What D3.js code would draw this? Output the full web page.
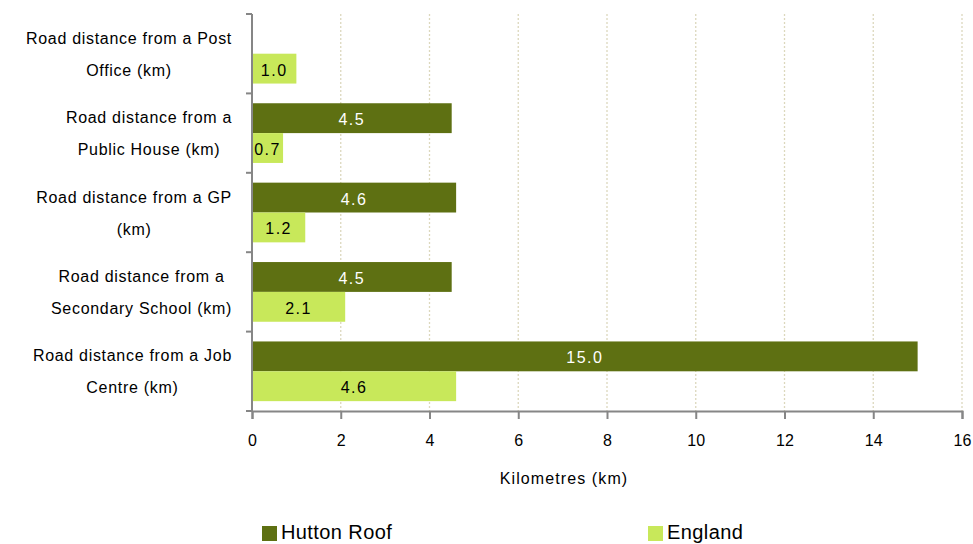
<!DOCTYPE html>
<html><head><meta charset="utf-8">
<script src="https://cdn.jsdelivr.net/npm/d3@7"></script>
<style>body{margin:0;background:#fff}svg{display:block;font-family:"Liberation Sans",Arial,sans-serif}</style>
</head><body><svg id="c" width="973" height="544"></svg>
<script>
const categories = [
  ["Road distance from a Post", "Office (km)"],
  ["Road distance from a", "Public House (km)"],
  ["Road distance from a GP", "(km)"],
  ["Road distance from a", "Secondary School (km)"],
  ["Road distance from a Job", "Centre (km)"]
];
const seriesNames = ["Hutton Roof", "England"];
const huttonRoof = [null, 4.5, 4.6, 4.5, 15.0];
const england = [1.0, 0.7, 1.2, 2.1, 4.6];
const xTicks = [0, 2, 4, 6, 8, 10, 12, 14, 16];
const colors = ["#5e7012", "#c8e85a"];
const labelColors = ["#ffffff", "#000000"];

(function () {
const svg = d3.select("#c");
const pLeft = 252, pRight = 962, pTop = 14, pBottom = 411;
const x = d3.scaleLinear().domain([0, 16]).range([pLeft, pRight]);
const y = d3.scaleBand().domain(d3.range(categories.length)).range([pTop, pBottom]).paddingInner(0).paddingOuter(0);
const inner = d3.scaleBand().domain([0, 1]).range([0, y.bandwidth()]).paddingInner(0).paddingOuter(0.33);

// gridlines
svg.append("g").selectAll("line").data(xTicks.filter(d => d > 0)).join("line")
  .attr("x1", d => x(d)).attr("x2", d => x(d)).attr("y1", pTop).attr("y2", pBottom)
  .attr("stroke", "#dcd8bd").attr("stroke-width", 1.3).attr("stroke-dasharray", "2,2");

const series = [huttonRoof, england];
series.forEach((vals, si) => {
  const g = svg.append("g");
  vals.forEach((v, i) => {
    if (v == null) return;
    const by = y(i) + inner(si);
    g.append("rect").attr("x", x(0)).attr("y", by).attr("width", x(v) - x(0)).attr("height", inner.bandwidth())
      .attr("fill", colors[si]);
    g.append("text").attr("x", (x(0) + x(v)) / 2).attr("y", by + inner.bandwidth() / 2 + 7)
      .attr("text-anchor", "middle").attr("font-size", 16).attr("letter-spacing", 1.5).attr("fill", labelColors[si])
      .text(v.toFixed(1));
  });
});

// axes
const xAxis = d3.axisBottom(x).tickValues(xTicks).tickSize(8).tickPadding(16).tickFormat(d3.format("d"));
const gx = svg.append("g").attr("transform", `translate(0,${pBottom})`).call(xAxis);
gx.select(".domain").attr("stroke", "#868686").attr("stroke-width", 2);
gx.selectAll(".tick line").attr("stroke", "#868686").attr("stroke-width", 2);
gx.selectAll(".tick text").attr("font-size", 16).attr("fill", "#000").attr("font-family", "Liberation Sans, Arial, sans-serif");

const yTickPos = d3.range(categories.length + 1).map(i => pTop + i * y.step());
svg.append("line").attr("x1", pLeft).attr("x2", pLeft).attr("y1", pTop).attr("y2", pBottom).attr("stroke", "#868686").attr("stroke-width", 2);
svg.append("g").selectAll("line").data(yTickPos).join("line")
  .attr("x1", pLeft - 6).attr("x2", pLeft).attr("y1", d => d).attr("y2", d => d)
  .attr("stroke", "#868686").attr("stroke-width", 2);

// category labels
categories.forEach((lines, i) => {
  const cy = y(i) + y.bandwidth() / 2;
  const g = svg.append("g");
  const texts = lines.map((t, j) => g.append("text").attr("y", cy + (j === 0 ? -16 : 16) + 6)
    .attr("text-anchor", "middle").attr("font-size", 16).attr("letter-spacing", 0.7).attr("fill", "#000").text(t));
  const maxW = d3.max(texts, t => t.node().getComputedTextLength());
  const cx = 232 - maxW / 2;
  texts.forEach(t => t.attr("x", cx));
});

svg.append("text").attr("x", 564).attr("y", 484).attr("text-anchor", "middle")
  .attr("font-size", 16).attr("letter-spacing", 1.1).attr("fill", "#000").text("Kilometres (km)");

// legend
const legX = [262, 648];
seriesNames.forEach((n, i) => {
  svg.append("rect").attr("x", legX[i]).attr("y", 526).attr("width", 15).attr("height", 15).attr("fill", colors[i]);
  svg.append("text").attr("x", legX[i] + 19).attr("y", 539).attr("font-size", 20).attr("letter-spacing", 0.4).attr("fill", "#000").text(n);
});
})();
</script></body></html>
